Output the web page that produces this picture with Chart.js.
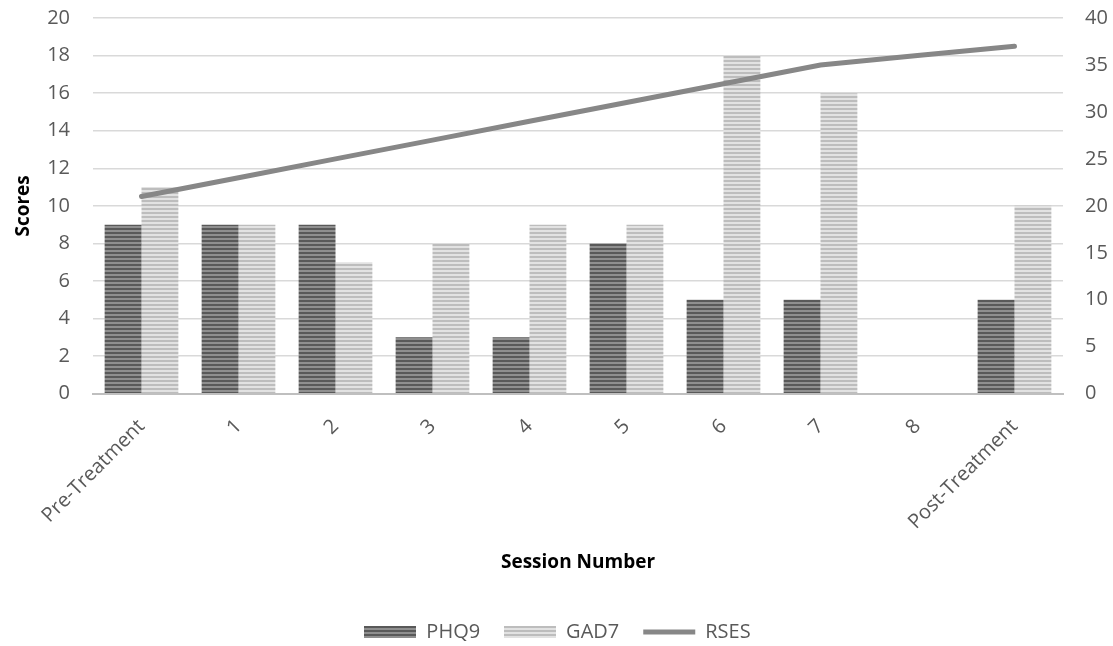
<!DOCTYPE html>
<html lang="en">
<head>
    <meta charset="UTF-8">
    <script src="https://cdn.jsdelivr.net/npm/chart.js"></script>
    <title>scores</title>
    <style>
        body {
    margin: 0;
    background: #ffffff;
}

.wrap {
    width: 1113px;
    height: 646px;
}
    </style>
</head>
<body>
    <div class="wrap">
        <canvas id="scoreChart" width="1113" height="646"></canvas>
    </div>

    <script>
        const sessions = ['Pre-Treatment', '1', '2', '3', '4', '5', '6', '7', '8', 'Post-Treatment'];
        const phq9 = [9, 9, 9, 3, 3, 8, 5, 5, null, 5];
        const gad7 = [11, 9, 7, 8, 9, 9, 18, 16, null, 10];
        const rses = [21, 23, 25, 27, 29, 31, 33, 35, 36, 37];

        const font = '"Open Sans", "Noto Sans", sans-serif';

        // horizontal stripes like the Excel pattern fill
        function stripes(dark, light) {
            const c = document.createElement('canvas');
            c.width = 4;
            c.height = 4;
            const g = c.getContext('2d');
            g.fillStyle = light;
            g.fillRect(0, 0, 4, 4);
            g.fillStyle = dark;
            g.fillRect(0, 0, 4, 2);
            return g.createPattern(c, 'repeat');
        }

        function swatch(dark, light) {
            const c = document.createElement('canvas');
            c.width = 52;
            c.height = 12;
            const g = c.getContext('2d');
            g.fillStyle = stripes(dark, light);
            g.fillRect(0, 0, 52, 12);
            return c;
        }

        // fixed axis widths, and no extra room for the end labels
        function leftAxis(scale) {
            scale.paddingTop = 0;
            scale.paddingBottom = 0;
            scale.width = 91;
        }
        function rightAxis(scale) {
            scale.paddingTop = 0;
            scale.paddingBottom = 0;
            scale.width = 50;
        }
        function noHPad(scale) {
            scale.paddingLeft = 0;
            scale.paddingRight = 0;
        }

        const phqFill = stripes('#595959', '#8f8f8f');
        const gadFill = stripes('#bdbdbd', '#e2e2e2');

        const ctx = document.getElementById('scoreChart').getContext('2d');
        const chart = new Chart(ctx, {
            type: 'bar',
            data: {
                labels: sessions,
                datasets: [{
                    label: 'PHQ9',
                    data: phq9,
                    backgroundColor: phqFill,
                    yAxisID: 'y',
                    order: 2
                }, {
                    label: 'GAD7',
                    data: gad7,
                    backgroundColor: gadFill,
                    yAxisID: 'y',
                    order: 2
                }, {
                    type: 'line',
                    label: 'RSES',
                    data: rses,
                    borderColor: '#878787',
                    backgroundColor: '#878787',
                    borderWidth: 5,
                    borderCapStyle: 'round',
                    pointRadius: 0,
                    tension: 0,
                    yAxisID: 'y1',
                    order: 1
                }]
            },
            options: {
                responsive: false,
                animation: false,
                layout: {
                    padding: { top: 18, right: 0, left: 2, bottom: -6 }
                },
                datasets: {
                    bar: {
                        barPercentage: 1,
                        categoryPercentage: 0.76
                    }
                },
                plugins: {
                    tooltip: { enabled: false },
                    legend: {
                        position: 'bottom',
                        labels: {
                            color: '#595959',
                            font: { family: font, size: 20 },
                            usePointStyle: true,
                            pointStyleWidth: 52,
                            padding: 24,
                            generateLabels: function () {
                                return [
                                    { text: 'PHQ9', pointStyle: swatch('#595959', '#8f8f8f'), fontColor: '#595959', lineWidth: 0, datasetIndex: 0 },
                                    { text: 'GAD7', pointStyle: swatch('#bdbdbd', '#e2e2e2'), fontColor: '#595959', lineWidth: 0, datasetIndex: 1 },
                                    { text: 'RSES', pointStyle: 'line', strokeStyle: '#878787', lineWidth: 5, fontColor: '#595959', datasetIndex: 2 }
                                ];
                            }
                        }
                    }
                },
                scales: {
                    x: {
                        afterFit: noHPad,
                        grid: { display: false },
                        border: { color: '#bfbfbf', width: 2 },
                        ticks: {
                            color: '#595959',
                            font: { family: font, size: 20 },
                            minRotation: 45,
                            maxRotation: 45,
                            padding: 13
                        },
                        title: {
                            display: true,
                            text: 'Session Number',
                            color: '#000000',
                            font: { family: font, size: 19, weight: 'bold' },
                            padding: { top: 4, bottom: 24 }
                        }
                    },
                    y: {
                        position: 'left',
                        min: 0,
                        max: 20,
                        afterFit: leftAxis,
                        ticks: {
                            stepSize: 2,
                            color: '#595959',
                            font: { family: font, size: 20 },
                            padding: 23
                        },
                        grid: { color: '#d9d9d9', lineWidth: 1.5, drawTicks: false },
                        border: { display: false },
                        title: {
                            display: true,
                            text: 'Scores',
                            color: '#000000',
                            font: { family: font, size: 19, weight: 'bold' },
                            padding: { top: 10, bottom: 4 }
                        }
                    },
                    y1: {
                        position: 'right',
                        min: 0,
                        max: 40,
                        afterFit: rightAxis,
                        ticks: {
                            stepSize: 5,
                            color: '#595959',
                            font: { family: font, size: 20 },
                            padding: 22
                        },
                        grid: { drawOnChartArea: false, drawTicks: false },
                        border: { display: false }
                    }
                }
            }
        });
    </script>
</body>
</html>
